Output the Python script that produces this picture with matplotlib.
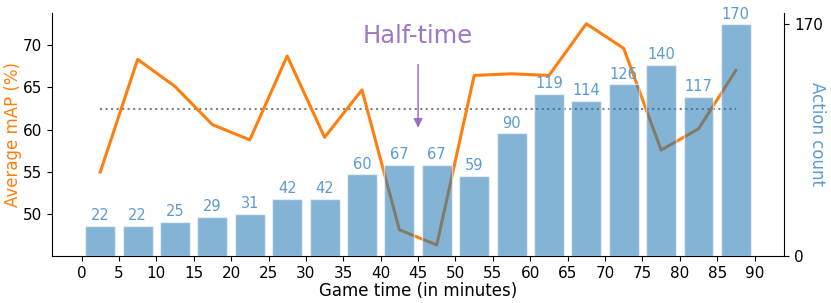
import matplotlib
matplotlib.use("Agg")
import matplotlib.pyplot as plt
import numpy as np

# Data
minutes = [2.5, 7.5, 12.5, 17.5, 22.5, 27.5, 32.5, 37.5, 42.5, 47.5,
           52.5, 57.5, 62.5, 67.5, 72.5, 77.5, 82.5, 87.5]
avg_map = [55.0, 68.3, 65.1, 60.6, 58.8, 68.7, 59.1, 64.7, 48.2, 46.4,
           66.4, 66.6, 66.4, 72.5, 69.6, 57.6, 60.1, 67.0]
action_count = [22, 22, 25, 29, 31, 42, 42, 60, 67, 67,
                59, 90, 119, 114, 126, 140, 117, 170]
mean_map = 62.4
xticks = list(range(0, 95, 5))
yticks_left = [50, 55, 60, 65, 70]
yticks_right = [0, 170]
halftime_x = 45

fig = plt.figure(figsize=(8.31, 3.03), dpi=100)
ax = fig.add_axes([0.0626, 0.155, 0.881, 0.803])
ax2 = ax.twinx()

orange = "#ff7f0e"
blue = "#1f77b4"
label_blue = "#5b9bd0"
purple = "#9467bd"

ax.plot(minutes, avg_map, color=orange, linewidth=2.2, zorder=2)
ax.plot([minutes[0], minutes[-1]], [mean_map, mean_map], color="gray",
        linestyle=":", linewidth=1.5, zorder=1)

bars = ax2.bar(minutes, action_count, width=4, color=blue, alpha=0.55,
               edgecolor="white", linewidth=1.0)
for xb, v in zip(minutes, action_count):
    ax2.text(xb, v + 2, str(v), ha="center", va="bottom", fontsize=10.5,
             color=label_blue)

ax.annotate("", xy=(halftime_x, 59.9), xytext=(halftime_x, 68.0),
            arrowprops=dict(arrowstyle="-|>", color=purple, lw=1.2,
                            mutation_scale=13, alpha=0.85))
ax.text(halftime_x, 71.1, "Half-time", ha="center", va="center",
        fontsize=17.5, color=purple, alpha=0.9)

ax.set_xticks(xticks)
ax.set_yticks(yticks_left)
ax2.set_yticks(yticks_right)
ax.tick_params(labelsize=11)
ax2.tick_params(labelsize=11)

ax.set_xlabel("Game time (in minutes)", fontsize=12, labelpad=1)
ax.set_ylabel("Average mAP (%)", fontsize=12, color=orange, va="center")
ax.yaxis.set_label_coords(-0.053, 0.5)
ax2.set_ylabel("Action count", fontsize=12, color=label_blue,
               rotation=270, va="center")
ax2.yaxis.set_label_coords(1.045, 0.5)

ax.spines["top"].set_visible(False)
ax.spines["right"].set_visible(False)
ax2.spines["top"].set_visible(False)
ax2.spines["left"].set_visible(False)
ax2.spines["bottom"].set_visible(False)

ax.set_xlim(-3.95, 93.95)
ax.set_ylim(45.1, 73.8)
ax2.set_ylim(0, 178.5)

fig.savefig("out.png", dpi=100)
